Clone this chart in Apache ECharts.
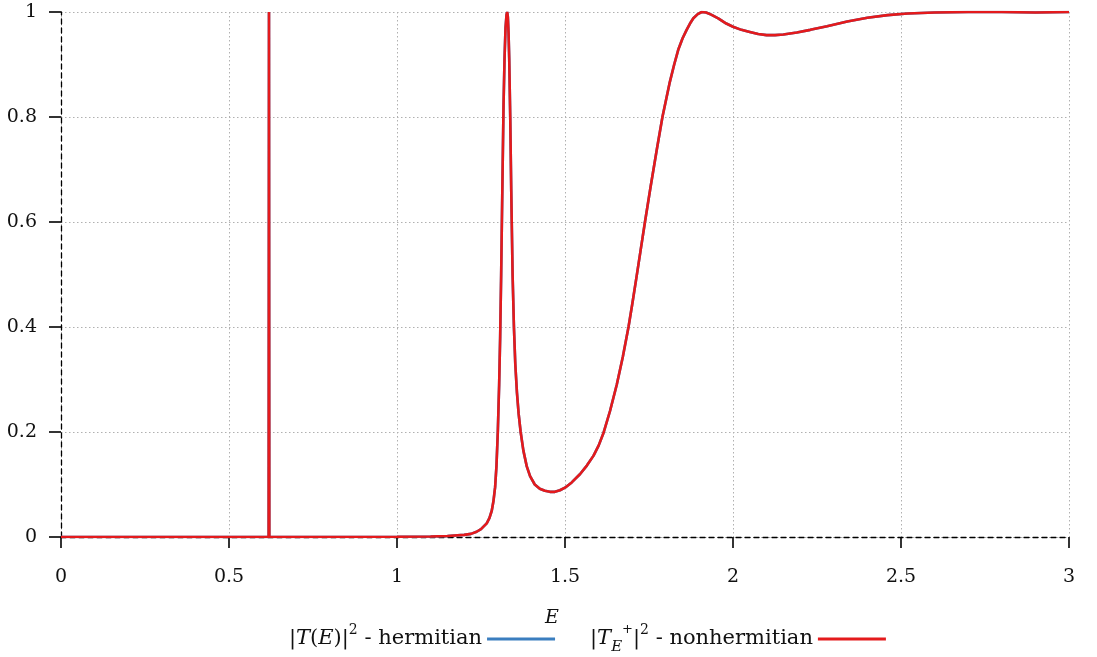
<!DOCTYPE html>
<html>
<head>
<meta charset="utf-8">
<script src="https://cdn.jsdelivr.net/npm/echarts@6.0.0/dist/echarts.min.js"></script>
<style>
  html, body { margin: 0; padding: 0; background: #ffffff; }
  #chart { width: 1097px; height: 657px; }
</style>
</head>
<body>
<div id="chart"></div>
<script>
// Energy grid (E) on which the transmission curves are sampled
const energy = [
  0, 0.6, 0.618, 0.619, 0.620, 0.65, 1.0, 1.1, 1.15, 1.2, 1.22, 1.237, 1.25, 1.267, 1.275,
  1.282, 1.287, 1.292, 1.296, 1.300, 1.304, 1.307, 1.310, 1.313, 1.317, 1.320, 1.323, 1.326,
  1.328, 1.330, 1.332, 1.334, 1.337, 1.340, 1.344, 1.348, 1.352, 1.357, 1.362, 1.368, 1.376,
  1.386, 1.396, 1.41, 1.425, 1.44, 1.455, 1.47, 1.485, 1.5, 1.52, 1.545, 1.565, 1.585, 1.6,
  1.614, 1.634, 1.654, 1.672, 1.689, 1.70, 1.713, 1.725, 1.738, 1.755, 1.773, 1.79, 1.811,
  1.825, 1.837, 1.85, 1.862, 1.872, 1.882, 1.895, 1.907, 1.92, 1.935, 1.956, 1.98, 2.0, 2.025,
  2.05, 2.075, 2.1, 2.125, 2.15, 2.19, 2.23, 2.28, 2.34, 2.4, 2.46, 2.52, 2.6, 2.7, 2.8, 2.9, 3.0
];

// |T(E)|^2 for the hermitian system
const transHermitian = [
  0, 0, 0, 1, 0, 0, 0.0005, 0.001, 0.002, 0.004, 0.006, 0.01, 0.015, 0.026, 0.036,
  0.05, 0.068, 0.095, 0.135, 0.2, 0.29, 0.38, 0.5, 0.64, 0.82, 0.91, 0.97, 0.995,
  1.0, 0.99, 0.96, 0.91, 0.8, 0.66, 0.5, 0.4, 0.33, 0.275, 0.235, 0.2, 0.165,
  0.135, 0.116, 0.1, 0.092, 0.088, 0.086, 0.086, 0.089, 0.094, 0.104, 0.12, 0.136, 0.155, 0.174,
  0.197, 0.24, 0.29, 0.343, 0.4, 0.443, 0.496, 0.546, 0.6, 0.668, 0.737, 0.8, 0.864,
  0.9, 0.928, 0.95, 0.966, 0.978, 0.988, 0.996, 1.0, 0.999, 0.995, 0.988, 0.978, 0.972, 0.966,
  0.962, 0.958, 0.956, 0.956, 0.957, 0.961, 0.966, 0.973, 0.982, 0.989, 0.994, 0.997, 0.999, 1.0, 1.0, 0.999, 1.0
];

// |T_{E+}|^2 for the nonhermitian system
const transNonhermitian = [
  0, 0, 0, 1, 0, 0, 0.0005, 0.001, 0.002, 0.004, 0.006, 0.01, 0.015, 0.026, 0.036,
  0.05, 0.068, 0.095, 0.135, 0.2, 0.29, 0.38, 0.5, 0.64, 0.82, 0.91, 0.97, 0.995,
  1.0, 0.99, 0.96, 0.91, 0.8, 0.66, 0.5, 0.4, 0.33, 0.275, 0.235, 0.2, 0.165,
  0.135, 0.116, 0.1, 0.092, 0.088, 0.086, 0.086, 0.089, 0.094, 0.104, 0.12, 0.136, 0.155, 0.174,
  0.197, 0.24, 0.29, 0.343, 0.4, 0.443, 0.496, 0.546, 0.6, 0.668, 0.737, 0.8, 0.864,
  0.9, 0.928, 0.95, 0.966, 0.978, 0.988, 0.996, 1.0, 0.999, 0.995, 0.988, 0.978, 0.972, 0.966,
  0.962, 0.958, 0.956, 0.956, 0.957, 0.961, 0.966, 0.973, 0.982, 0.989, 0.994, 0.997, 0.999, 1.0, 1.0, 0.999, 1.0
];

const seriesNames = ['hermitian', 'nonhermitian'];
const seriesColors = ['#3b7ebf', '#e41a1c'];

const SERIF = '"DejaVu Serif", "Liberation Serif", serif';
const FONT_SIZE = 19;
const LEGEND_FONT = 21;

function pairs(xs, ys) {
  return xs.map((x, i) => [x, ys[i]]);
}

// Legend labels with math-style sub/superscripts
const legendLabels = {
  hermitian: '{n||}{i|T}{n|(}{i|E}{n|)|}{sup|2}{n| - hermitian}',
  nonhermitian: '{n||}{i|T}{sub|E}{subsup|+}{n||}{sup|2}{n| - nonhermitian}'
};

const chart = echarts.init(document.getElementById('chart'), null, { renderer: 'canvas' });

const axisLineStyle = { color: '#000', width: 1.3, type: [5, 4] };
const tickStyle = { color: '#000', width: 1.6 };
const gridLineStyle = { color: '#b0b0b0', width: 1, type: [1.5, 2.5] };

chart.setOption({
  animation: false,
  backgroundColor: '#ffffff',
  grid: { left: 61, right: 28, top: 12, bottom: 120, containLabel: false },
  xAxis: {
    type: 'value',
    min: 0, max: 3, interval: 0.5,
    name: 'E',
    nameLocation: 'middle',
    nameGap: 72,
    nameTextStyle: { fontFamily: SERIF, fontStyle: 'italic', fontSize: FONT_SIZE, color: '#111', padding: [0, 26, 0, 0] },
    axisLine: { show: true, lineStyle: axisLineStyle },
    axisTick: { show: true, inside: false, length: 11, lineStyle: tickStyle },
    axisLabel: { margin: 31, fontFamily: SERIF, fontSize: FONT_SIZE, color: '#111' },
    splitLine: { show: true, lineStyle: gridLineStyle }
  },
  yAxis: {
    type: 'value',
    min: 0, max: 1, interval: 0.2,
    axisLine: { show: true, lineStyle: axisLineStyle },
    axisTick: { show: true, inside: false, length: 12, lineStyle: tickStyle },
    axisLabel: { margin: 24, fontFamily: SERIF, fontSize: FONT_SIZE, color: '#111' },
    splitLine: { show: true, lineStyle: gridLineStyle }
  },
  legend: {
    left: 284,
    top: 618,
    align: 'right',
    itemGap: 35,
    itemWidth: 68,
    itemHeight: 3,
    icon: 'rect',
    data: seriesNames,
    formatter: name => legendLabels[name],
    textStyle: {
      fontFamily: SERIF,
      fontSize: LEGEND_FONT,
      color: '#111',
      rich: {
        n: { fontFamily: SERIF, fontSize: LEGEND_FONT, lineHeight: 32, color: '#111' },
        i: { fontFamily: SERIF, fontSize: LEGEND_FONT, fontStyle: 'italic', lineHeight: 32, color: '#111' },
        sup: { fontFamily: SERIF, fontSize: 14, lineHeight: 15, verticalAlign: 'top', color: '#111' },
        sub: { fontFamily: SERIF, fontSize: 15, fontStyle: 'italic', lineHeight: 16, verticalAlign: 'bottom', color: '#111' },
        subsup: { fontFamily: SERIF, fontSize: 13, lineHeight: 20, verticalAlign: 'top', color: '#111' }
      }
    }
  },
  series: [
    {
      name: seriesNames[0],
      type: 'line',
      data: pairs(energy, transHermitian),
      showSymbol: false,
      symbol: 'none',
      sampling: null,
      lineStyle: { color: seriesColors[0], width: 2.6 },
      itemStyle: { color: seriesColors[0] },
      z: 2
    },
    {
      name: seriesNames[1],
      type: 'line',
      data: pairs(energy, transNonhermitian),
      showSymbol: false,
      symbol: 'none',
      sampling: null,
      lineStyle: { color: seriesColors[1], width: 2.6 },
      itemStyle: { color: seriesColors[1] },
      z: 3
    }
  ]
});
</script>
</body>
</html>
